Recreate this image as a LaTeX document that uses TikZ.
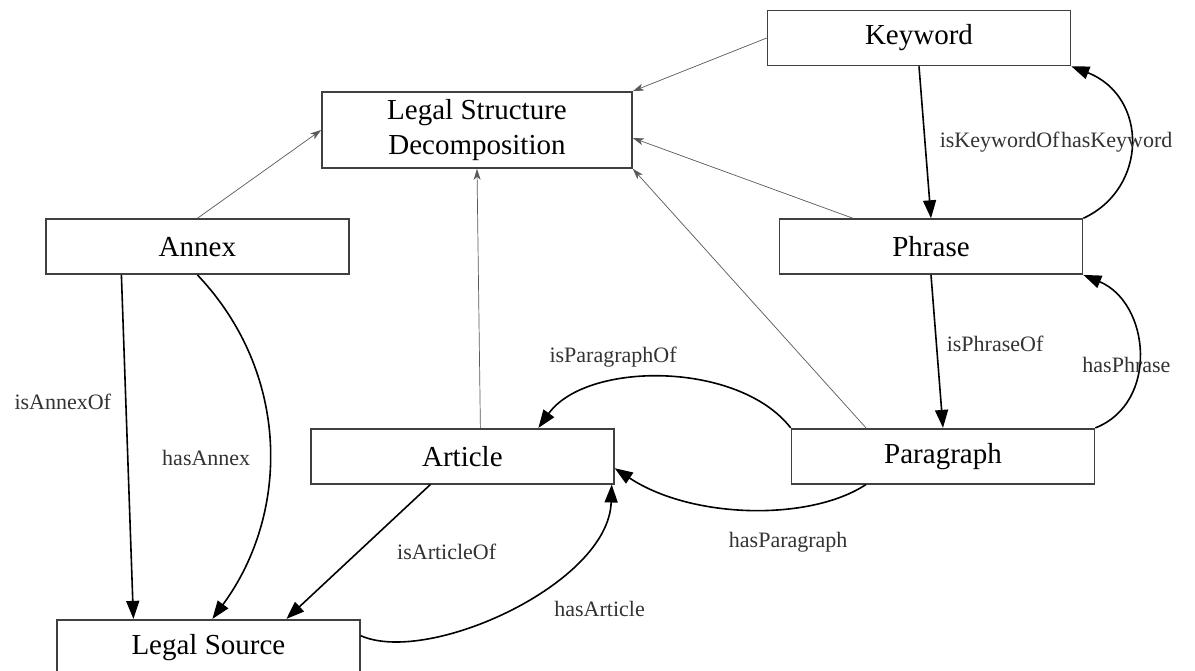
\documentclass[tikz,border=0pt]{standalone}
\usepackage{fontspec}
\setmainfont{Liberation Serif}
\usetikzlibrary{arrows.meta,positioning}
\tikzset{%
  % classes
  cls/.style={draw=black!75, line width=1.6pt, rectangle, align=center, inner sep=0pt,
    minimum width=303pt, minimum height=55pt, font=\fontsize{29}{35}\selectfont},
  % edge styles
  rel/.style={-{Triangle[length=18pt,width=13pt]}, line width=1.6pt},
  isa/.style={-{Stealth[length=11pt,width=7pt,inset=3pt]}, line width=0.7pt, draw=black!65},
  lbl/.style={font=\fontsize{22}{24}\selectfont, text=black!80, inner sep=0pt},
}

\begin{document}
\begin{tikzpicture}[x=1pt, y=-1pt]
  \path[use as bounding box, fill=white] (0,0) rectangle (1195,671);

  \node[cls] (keyword) at (919,38) {Keyword};
  \node[cls, minimum width=310pt, minimum height=76pt] (lsd) at (477,130) {Legal Structure\\Decomposition};
  \node[cls, below=152pt of keyword, xshift=12pt] (phrase) {Phrase};
  \node[cls, below=153pt of phrase, xshift=12pt] (paragraph) {Paragraph};
  \node[cls, left=176pt of paragraph] (article) {Article};
  \node[cls, left=429pt of phrase] (annex) {Annex};
  \node[cls, minimum height=56pt, below=344pt of annex, xshift=11pt] (source) {Legal Source};

  % thin links up to the decomposition
  \draw[isa] (keyword.west) -- (lsd.north east);
  \draw[isa] (annex.north) -- (lsd.west);
  \draw[isa] ([xshift=18pt]article.north) -- (lsd.south);
  \draw[isa] ([xshift=-77pt]paragraph.north) -- (lsd.south east);
  \draw[isa] ([xshift=-78pt]phrase.north) -- ([yshift=-8pt]lsd.east);

  % relations
  \draw[rel] (keyword.south) -- (phrase.north)
    node[lbl, midway, anchor=west, xshift=14pt] (kwof) {isKeywordOf};
  \draw[rel] (phrase.north east) .. controls +(65,-30) and +(77,30) .. (keyword.south east)
    node[lbl, right=0pt of kwof] {hasKeyword};
  \draw[rel] (phrase.south) -- (paragraph.north)
    node[lbl, midway, anchor=west, xshift=9pt, yshift=8pt] {isPhraseOf};
  \draw[rel] (paragraph.north east) .. controls +(64,-25) and +(67,28) .. (phrase.south east)
    node[lbl, pos=0.5, xshift=-12pt, yshift=-12pt] {hasPhrase};
  \draw[rel] (paragraph.north west) .. controls +(-52,-67) and +(48,-67) .. ([xshift=76pt]article.north)
    node[lbl, pos=0.5, xshift=-50pt, yshift=21pt] {isParagraphOf};
  \draw[rel] ([xshift=-77pt]paragraph.south) .. controls +(-56,37) and +(77,51) .. ([yshift=-12pt]article.east)
    node[lbl, pos=0.5, xshift=40pt, yshift=-33pt] {hasParagraph};
  \draw[rel] ([xshift=-32pt]article.south) -- ([xshift=78pt]source.north)
    node[lbl, midway, anchor=west, xshift=38pt] {isArticleOf};
  \draw[rel] ([yshift=12pt]source.east) .. controls +(68,30) and +(-3,99) .. ([xshift=-3pt]article.south east)
    node[lbl, midway, anchor=west, xshift=43pt] {hasArticle};
  \draw[rel] ([xshift=-76pt]annex.south) -- ([xshift=-75pt]source.north)
    node[lbl, pos=0.37, anchor=east, xshift=-14pt] {isAnnexOf};
  \draw[rel] (annex.south) .. controls +(93,98) and +(78,-106) .. ([xshift=4pt]source.north)
    node[lbl, midway, anchor=east, xshift=-18pt, yshift=-14pt] {hasAnnex};
\end{tikzpicture}
\end{document}
